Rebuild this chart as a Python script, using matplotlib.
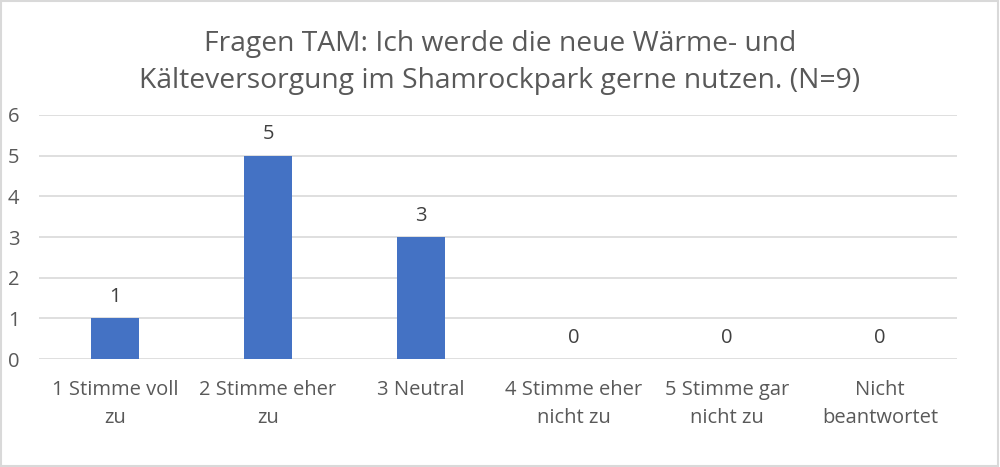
import matplotlib
matplotlib.use("Agg")
import matplotlib.pyplot as plt
from matplotlib.patches import Rectangle

categories = ["1 Stimme voll\nzu", "2 Stimme eher\nzu", "3 Neutral",
              "4 Stimme eher\nnicht zu", "5 Stimme gar\nnicht zu", "Nicht\nbeantwortet"]
counts = [1, 5, 3, 0, 0, 0]
title = "Fragen TAM: Ich werde die neue Wärme- und\nKälteversorgung im Shamrockpark gerne nutzen. (N=9)"

plt.rcParams['font.family'] = ['Open Sans', 'DejaVu Sans']
txt = "#595959"

fig = plt.figure(figsize=(10, 4.67), dpi=100)
ax = fig.add_axes([0.0385, 0.231, 0.918, 0.523])

x = list(range(len(categories)))
bars = ax.bar(x, counts, width=0.31, color="#4472C4", zorder=3)
for xi, v in zip(x, counts):
    ax.annotate(str(v), (xi, v), xytext=(0, 8), textcoords="offset points",
                ha="center", va="bottom", fontsize=14.5, color="#404040")

ax.set_xlim(-0.5, len(categories) - 0.5)
ax.set_ylim(0, 6)
ax.set_yticks(range(0, 7))
ax.set_xticks(x)
ax.set_xticklabels(categories, fontsize=14.5, color=txt, linespacing=1.55)
ax.tick_params(axis="y", labelsize=14.5, labelcolor=txt, length=0, pad=22)
ax.tick_params(axis="x", length=0, pad=15)
for lbl in ax.get_yticklabels():
    lbl.set_horizontalalignment("left")
ax.grid(axis="y", color="#d9d9d9", linewidth=1.2, zorder=0)
for s in ax.spines.values():
    s.set_visible(False)

fig.text(0.5, 0.866, title, ha="center", va="center", fontsize=20.3,
         color=txt, linespacing=1.45)
fig.patches.append(Rectangle((0.001, 0.002), 0.997, 0.995, transform=fig.transFigure,
                             fill=False, edgecolor="#d9d9d9", linewidth=1.5))

fig.savefig("out.png", dpi=100)
